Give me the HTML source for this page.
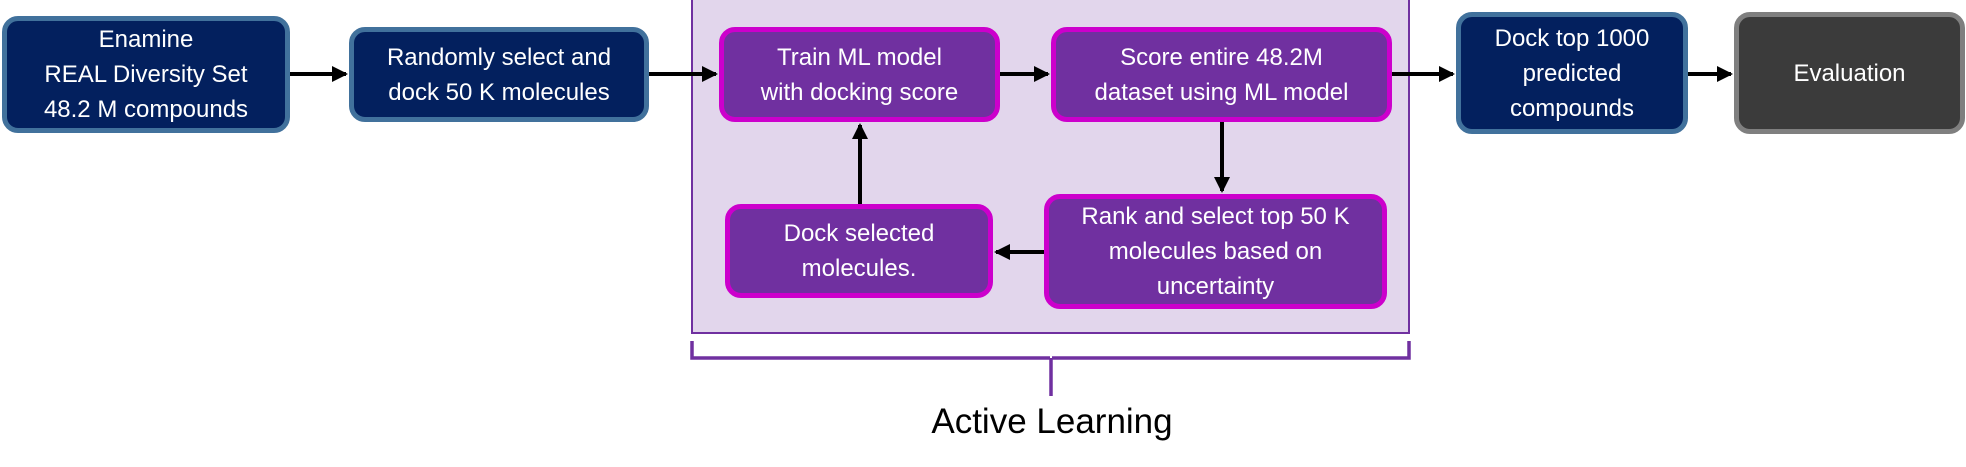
<!DOCTYPE html>
<html><head><meta charset="utf-8">
<style>
body{margin:0;width:1966px;height:467px;background:#fff;position:relative;overflow:hidden;font-family:"Liberation Sans",sans-serif;}
.b{position:absolute;box-sizing:border-box;display:flex;align-items:center;justify-content:center;text-align:center;color:#fff;font-size:24px;line-height:35px;border-radius:16px;border-width:5px;border-style:solid;}
.n{background:#03205e;border-color:#41719c;}
.p{background:#7030a0;border-color:#cc00cc;}
.g{background:#3b3b3b;border-color:#7f7f7f;}
#lav{position:absolute;left:691px;top:-2px;width:719px;height:336px;box-sizing:border-box;background:#e2d6ec;border:2px solid #7030a0;}
svg{position:absolute;left:0;top:0;}
</style></head><body>
<div id="lav"></div>
<div class="b n" style="left:2px;top:16px;width:288px;height:117px;">Enamine<br>REAL Diversity Set<br>48.2 M compounds</div>
<div class="b n" style="left:349px;top:27px;width:300px;height:95px;">Randomly select and<br>dock 50 K molecules</div>
<div class="b p" style="left:719px;top:27px;width:281px;height:95px;">Train ML model<br>with docking score</div>
<div class="b p" style="left:1051px;top:27px;width:341px;height:95px;">Score entire 48.2M<br>dataset using ML model</div>
<div class="b p" style="left:725px;top:204px;width:268px;height:94px;">Dock selected<br>molecules.</div>
<div class="b p" style="left:1044px;top:194px;width:343px;height:115px;">Rank and select top 50 K<br>molecules based on<br>uncertainty</div>
<div class="b n" style="left:1456px;top:12px;width:232px;height:122px;">Dock top 1000<br>predicted<br>compounds</div>
<div class="b g" style="left:1734px;top:12px;width:231px;height:122px;">Evaluation</div>
<svg width="1966" height="467">
<defs><marker id="a" markerWidth="4" markerHeight="4" refX="3.5" refY="2" orient="auto"><path d="M0,0L4,2L0,4z" fill="#000"/></marker></defs>
<g stroke="#000" stroke-width="4" fill="none" marker-end="url(#a)">
<line x1="290" y1="74" x2="346" y2="74"/>
<line x1="649" y1="74" x2="716" y2="74"/>
<line x1="1000" y1="74" x2="1048" y2="74"/>
<line x1="1392" y1="74" x2="1453" y2="74"/>
<line x1="1688" y1="74" x2="1731" y2="74"/>
<line x1="1222" y1="122" x2="1222" y2="191"/>
<line x1="1044" y1="252" x2="996" y2="252"/>
<line x1="860" y1="204" x2="860" y2="125"/>
</g>
<path d="M692,341 V358 H1050 M1052,358 H1409 V341 M1051,358 V396" stroke="#7030a0" stroke-width="3.5" fill="none"/>
<text x="1052" y="433" font-size="35" text-anchor="middle" fill="#000" font-family="Liberation Sans, sans-serif">Active Learning</text>
</svg>
</body></html>
